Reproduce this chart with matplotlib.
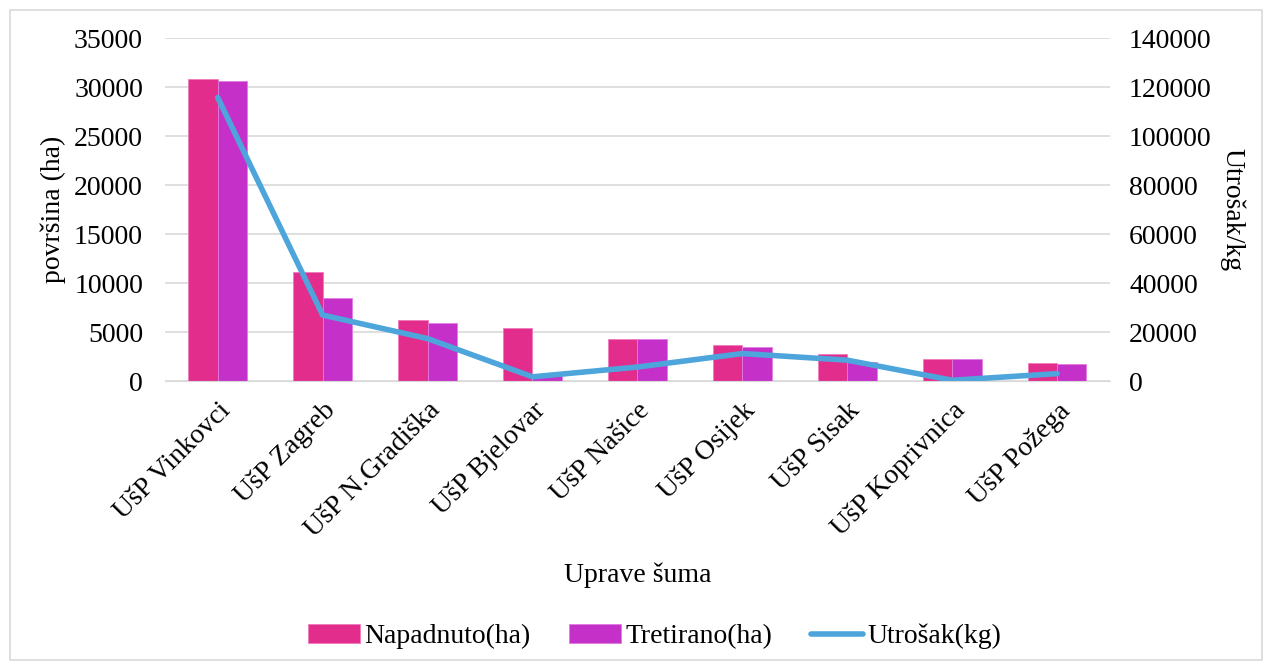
import matplotlib.pyplot as plt
import numpy as np
from matplotlib.patches import Rectangle

plt.rcParams['font.family'] = ['Liberation Serif', 'DejaVu Serif']

uprave = ['UšP Vinkovci', 'UšP Zagreb', 'UšP N.Gradiška', 'UšP Bjelovar', 'UšP Našice',
          'UšP Osijek', 'UšP Sisak', 'UšP Koprivnica', 'UšP Požega']
napadnuto = [30800, 11100, 6200, 5400, 4300, 3650, 2800, 2250, 1850]
tretirano = [30600, 8500, 5950, 500, 4300, 3500, 1950, 2250, 1780]
utrosak = [115800, 27000, 17400, 1800, 5800, 11300, 8600, 400, 3100]

fig = plt.figure(figsize=(12.71, 6.70), dpi=100)
ax = fig.add_axes([0.13, 0.431, 0.743, 0.512])
ax2 = ax.twinx()

x = np.arange(len(uprave))
w = 0.28
b1 = ax.bar(x - w / 2, napadnuto, w, color='#E22D8D', edgecolor='#F07CBC', linewidth=0.6, label='Napadnuto(ha)', zorder=2)
b2 = ax.bar(x + w / 2, tretirano, w, color='#C530C8', edgecolor='#E07CE2', linewidth=0.6, label='Tretirano(ha)', zorder=2)
l1, = ax2.plot(x, utrosak, color='#4EA5DC', lw=4, solid_capstyle='round', label='Utrošak(kg)')

ax.set_xlim(-0.5, len(uprave) - 0.5)
ax.set_ylim(0, 35000)
ax.set_yticks(range(0, 35001, 5000))
ax2.set_ylim(0, 140000)
ax2.set_yticks(range(0, 140001, 20000))
ax.grid(axis='y', color='#D9D9D9', lw=1.2, zorder=0)
ax.set_axisbelow(True)

for a in (ax, ax2):
    for s in a.spines.values():
        s.set_visible(False)
    a.tick_params(length=0, labelsize=20)
ax.spines['bottom'].set_visible(True)
ax.spines['bottom'].set_color('#D9D9D9')

ax.set_xticks(x)
ax.set_xticklabels(uprave, rotation=45, ha='right', rotation_mode='anchor', fontsize=20)
ax.tick_params(axis='x', pad=12)
ax.tick_params(axis='y', pad=16)
ax2.tick_params(axis='y', pad=14)

ax.set_ylabel('površina (ha)', fontsize=20, labelpad=6)
ax2.set_ylabel('Utrošak/kg', fontsize=20, rotation=270, labelpad=24)
ax.set_xlabel('Uprave šuma', fontsize=20, labelpad=14)

fig.legend([b1, b2, l1], ['Napadnuto(ha)', 'Tretirano(ha)', 'Utrošak(kg)'],
           loc='center', bbox_to_anchor=(0.515, 0.05), ncol=3, frameon=False,
           fontsize=20, handlelength=1.87, handleheight=0.7, columnspacing=1.37, handletextpad=0.18)

fig.patches.append(Rectangle((0.008, 0.015), 0.985, 0.97, transform=fig.transFigure,
                             fill=False, edgecolor='#D9D9D9', lw=1.2))

fig.savefig('out.png', dpi=100)
